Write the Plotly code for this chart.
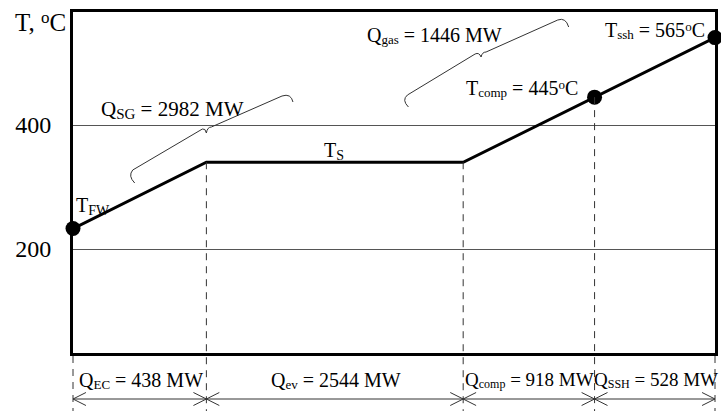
import plotly.graph_objects as go

# ---------------- data ----------------
segments = ["EC", "ev", "comp", "SSH"]
q_mw = [438, 2544, 918, 528]                 # heat duty of each section, MW
x_pos = [0, 134, 392, 524, 645]              # schematic (not to scale) heat-duty axis
temps = [233, 340, 340, 445, 541]            # drawn temperature profile, °C
marker_idx = [0, 3, 4]                       # points shown with dots
q_sg = 2982
q_gas = 1446
t_comp = 445
t_ssh = 565
y_ticks = [200, 400]

# ---------------- layout geometry ----------------
W, H = 721, 414
ML, MR, MT, MB = 73, 3, 12, 61
PW, PH = W - ML - MR, H - MT - MB
XR = [0, 645]
YR = [32.3, 582.3]
FONT = "Liberation Serif, Times New Roman, serif"


def fx(px):  # pixel -> paper x
    return (px - ML) / PW


def fy(py):  # pixel -> paper y
    return (H - MB - py) / PH


def dx(x):  # data -> paper x
    return (x - XR[0]) / (XR[1] - XR[0])


def dy(y):  # data -> paper y
    return (y - YR[0]) / (YR[1] - YR[0])


def pxx(x):  # data x -> pixel
    return ML + dx(x) * PW


fig = go.Figure()
fig.add_trace(go.Scatter(
    x=x_pos, y=temps, mode="lines",
    line=dict(color="black", width=3), cliponaxis=False, showlegend=False,
    hoverinfo="skip"))
fig.add_trace(go.Scatter(
    x=[x_pos[i] for i in marker_idx], y=[temps[i] for i in marker_idx],
    mode="markers", marker=dict(color="black", size=15),
    cliponaxis=False, showlegend=False, hoverinfo="skip"))

shapes = []
dash = dict(color="#333", width=1, dash="7px,6px")
y_bottom_ext = fy(411)
# dashed verticals at interior boundaries (from the curve down below the frame)
for i in range(1, len(x_pos) - 1):
    shapes.append(dict(type="line", xref="paper", yref="paper",
                       x0=dx(x_pos[i]), x1=dx(x_pos[i]),
                       y0=dy(temps[i]), y1=y_bottom_ext, line=dash))
# dashed verticals at the ends (below the frame)
for i in (0, len(x_pos) - 1):
    shapes.append(dict(type="line", xref="paper", yref="paper",
                       x0=dx(x_pos[i]), x1=dx(x_pos[i]),
                       y0=fy(356), y1=y_bottom_ext, line=dash))

# dimension line with open arrow heads
ya = 399
arrow_line = dict(color="#333", width=1)
shapes.append(dict(type="line", xref="paper", yref="paper",
                   x0=dx(x_pos[0]), x1=dx(x_pos[-1]), y0=fy(ya), y1=fy(ya),
                   line=arrow_line))
AL, AW = 13, 6.5
for i, xb in enumerate(x_pos):
    pxb = pxx(xb)
    if i < len(x_pos) - 1:  # "<" head
        path = (f"M {fx(pxb + AL)},{fy(ya - AW)} L {fx(pxb)},{fy(ya)} "
                f"L {fx(pxb + AL)},{fy(ya + AW)}")
        shapes.append(dict(type="path", xref="paper", yref="paper", path=path,
                           line=arrow_line))
    if i > 0:  # ">" head
        path = (f"M {fx(pxb - AL)},{fy(ya - AW)} L {fx(pxb)},{fy(ya)} "
                f"L {fx(pxb - AL)},{fy(ya + AW)}")
        shapes.append(dict(type="path", xref="paper", yref="paper", path=path,
                           line=arrow_line))


def brace(cmds):
    out = []
    for c in cmds:
        if isinstance(c, str):
            out.append(c)
        else:
            out.append(f"{fx(c[0])},{fy(c[1])}")
    return " ".join(out)


brace_line = dict(color="#333", width=1)
shapes.append(dict(type="path", xref="paper", yref="paper", line=brace_line,
                   path=brace(["M", (135, 183), "Q", (128, 176), (133, 170),
                               "L", (203, 129), "Q", (206, 128), (207, 133),
                               "Q", (208, 127), (212, 127), "L", (283, 96),
                               "Q", (292, 93), (294, 102)])))
shapes.append(dict(type="path", xref="paper", yref="paper", line=brace_line,
                   path=brace(["M", (410, 107), "Q", (403, 100), (409, 95),
                               "L", (477, 54), "Q", (481, 52), (483, 57),
                               "Q", (484, 52), (488, 52), "L", (560, 20),
                               "Q", (568, 17), (571, 27)])))

ann = []


def text(t, px, py, size=20, xanchor="left", yanchor="middle"):
    ann.append(dict(text=t, x=fx(px), y=fy(py), xref="paper", yref="paper",
                    showarrow=False, xanchor=xanchor, yanchor=yanchor,
                    font=dict(family=FONT, size=size, color="black")))


def sub(s, size):
    return (f'<span style="font-size:{size}px;baseline-shift:-0.18em">'
            f'{s}</span>')


def deg(size):
    return (f'<span style="font-size:{size}px;baseline-shift:0.45em">o</span>')


text("T, " + deg(17) + "C", 13, 22, size=25)
text("T" + sub("FW", 14), 74, 206)
text("Q" + sub("SG", 15) + f" = {q_sg} MW", 99, 110, size=21)
text("T" + sub("S", 14), 323, 151)
text("Q" + sub("gas", 13) + f" = {q_gas} MW", 366, 35)
text("T" + sub("comp", 13) + f" = {t_comp}" + deg(13) + "C", 466, 88)
text("T" + sub("ssh", 13) + f" = {t_ssh}" + deg(13) + "C", 605, 31)

# bottom section labels, centred in each (schematic) section
label_y = 380
label_sizes = [20, 20, 19, 19]
for i, (s, q) in enumerate(zip(segments, q_mw)):
    cx = (pxx(x_pos[i]) + pxx(x_pos[i + 1])) / 2 + 1
    text("Q" + sub(s, 13 if label_sizes[i] == 20 else 12) + f" = {q} MW",
         cx, label_y, size=label_sizes[i], xanchor="center")

fig.update_layout(
    width=W, height=H,
    margin=dict(l=ML, r=MR, t=MT, b=MB, pad=0),
    paper_bgcolor="white", plot_bgcolor="white",
    shapes=shapes, annotations=ann, showlegend=False,
    xaxis=dict(range=XR, showgrid=False, zeroline=False, showticklabels=False,
               ticks="", showline=True, linecolor="black", linewidth=3,
               mirror=True, fixedrange=True),
    yaxis=dict(range=YR, tickvals=y_ticks, ticktext=[str(v) for v in y_ticks],
               showgrid=True, gridcolor="#555", gridwidth=1, zeroline=False,
               ticks="", ticklabelstandoff=14,
               tickfont=dict(family=FONT, size=24, color="black"),
               showline=True, linecolor="black", linewidth=3, mirror=True,
               fixedrange=True),
)

fig.write_html("out.html", config={"displayModeBar": False},
               post_script="document.body.style.margin='0px';"
                           "document.body.style.padding='0px';")
